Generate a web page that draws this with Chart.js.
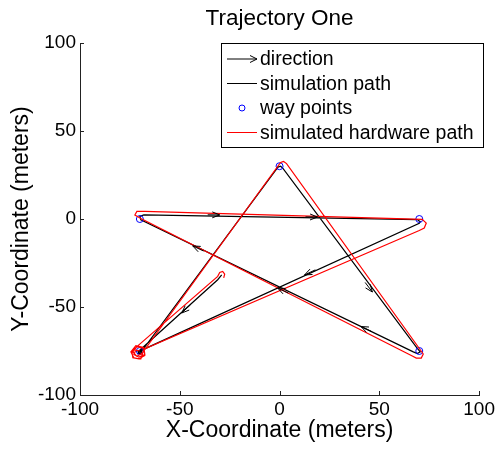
<!DOCTYPE html>
<html lang="en">
<head>
<meta charset="utf-8">
<title>Trajectory One</title>
<script src="https://cdn.jsdelivr.net/npm/chart.js@4.4.0/dist/chart.umd.min.js"></script>
<style>
  html, body { margin: 0; padding: 0; background: #fff; }
</style>
</head>
<body>
<canvas id="chart" width="498" height="450"></canvas>
<script>
// axis ticks
const tickValues = [-100, -50, 0, 50, 100];

// way points (star corners)
const waypointX = [0, 70, 70, -70, -70];
const waypointY = [30, 0, -75, 0, -75];

// simulation path (black)
const simX = [-29, -31, -69.5, -70.5, -71, -69.5, -69, -0.8, 0.5, 1.5, 69, 70.5, 69, 67,
              -69.5, -70, -68, 69, 70.5, 70, -69, -70.5, -71, -70, -69.5, -70.5];
const simY = [-31.8, -34.5, -74, -75.5, -76.5, -76.5, -75, 29.5, 30, 29, -73.5, -75.5, -76.5, -75.5,
              -0.5, 1.5, 2.3, -0.3, -1.5, -2.5, -74.5, -76, -75, -74.5, -75.5, -75.8];

// simulated hardware path (red)
const hwX = [-28, -27.5, -28.5, -30, -31, -71.5, -74, -73.5, -70.5, -67.5, -68, -71.5, -73.5, -71.5, -69,
             0.5, 2, 3.5, 72, 71, 68.5, 66.5, -69.5, -72.5, -71.5, -67.5, 71.5, 73.5, 72.5, 70,
             -68, -69.5, -73, -74.5, -72, -68, -67.5, -70.5, -73, -72, -70];
const hwY = [-33.5, -31.3, -29.8, -30.4, -32.6, -72.5, -75.5, -78.8, -79.5, -77.5, -73.5, -72.5, -75.5, -78, -76.5,
             32.1, 32.7, 31.5, -76.7, -79, -79, -77.8, 0.3, 2.3, 4.3, 4.3, -0.2, -2.3, -5.1, -6.5,
             -74, -79.5, -79, -75.5, -72, -73, -77, -78.5, -77, -74.5, -75];

// direction arrows: tip position and direction vector
const arrowX = [-49, 46.5, 40.8, -1, -43.5, -30, 19, 12.5];
const arrowY = [-53.4, -41.5, -61.1, -39.2, -15.3, 2.3, 1.1, -31.8];
const arrowU = [-41, 70, -140, -140, -140, 140, 140, -140];
const arrowV = [-44, -105, 75, 75, 75, -2, -2, -75];

const legendLabels = ['direction', 'simulation path', 'way points', 'simulated hardware path'];

const toPts = (xs, ys) => xs.map((v, i) => ({ x: v, y: ys[i] }));

Chart.defaults.font.family = '"Liberation Sans", Arial, Helvetica, sans-serif';
Chart.defaults.color = '#000';

function drawArrow(ctx, tx, ty, a, shaft, head) {
  ctx.beginPath();
  ctx.moveTo(tx - shaft * Math.cos(a), ty - shaft * Math.sin(a));
  ctx.lineTo(tx, ty);
  ctx.moveTo(tx - head * Math.cos(a - 0.38), ty - head * Math.sin(a - 0.38));
  ctx.lineTo(tx, ty);
  ctx.lineTo(tx - head * Math.cos(a + 0.38), ty - head * Math.sin(a + 0.38));
  ctx.stroke();
}

const overlay = {
  id: 'overlay',
  beforeDraw(chart) {
    const ctx = chart.ctx;
    ctx.save();
    ctx.fillStyle = '#fff';
    ctx.fillRect(0, 0, chart.width, chart.height);
    ctx.restore();
  },
  afterDatasetsDraw(chart) {
    const { ctx, scales: { x, y }, chartArea } = chart;
    ctx.save();
    ctx.strokeStyle = '#000';
    ctx.lineWidth = 1;
    for (let i = 0; i < arrowX.length; i++) {
      const tx = x.getPixelForValue(arrowX[i]), ty = y.getPixelForValue(arrowY[i]);
      const bx = x.getPixelForValue(arrowX[i] - arrowU[i]), by = y.getPixelForValue(arrowY[i] - arrowV[i]);
      drawArrow(ctx, tx, ty, Math.atan2(ty - by, tx - bx), 12, 8);
    }
    // inward ticks, left and bottom only
    ctx.strokeStyle = '#222';
    ctx.beginPath();
    tickValues.forEach(v => {
      const px = Math.round(x.getPixelForValue(v)) + 0.5;
      ctx.moveTo(px, chartArea.bottom);
      ctx.lineTo(px, chartArea.bottom - 4);
      const py = Math.round(y.getPixelForValue(v)) + 0.5;
      ctx.moveTo(chartArea.left, py);
      ctx.lineTo(chartArea.left + 4, py);
    });
    ctx.stroke();
    ctx.restore();
  },
  afterDraw(chart) {
    const ctx = chart.ctx;
    const bx = 221.5, by = 43.5, bw = 262, bh = 104;
    ctx.save();
    ctx.fillStyle = '#fff';
    ctx.fillRect(bx, by, bw, bh);
    ctx.strokeStyle = '#000';
    ctx.lineWidth = 1;
    ctx.strokeRect(bx, by, bw, bh);
    ctx.font = '19.5px "Liberation Sans", Arial, sans-serif';
    ctx.textBaseline = 'middle';
    ctx.fillStyle = '#000';
    const rows = [59, 83.5, 108, 132.5];
    legendLabels.forEach((t, i) => {
      const ly = rows[i];
      if (i === 0 || i === 1 || i === 3) {
        ctx.strokeStyle = i === 3 ? '#f00' : '#000';
        ctx.beginPath();
        ctx.moveTo(227, ly);
        ctx.lineTo(257, ly);
        ctx.stroke();
        if (i === 0) {
          ctx.beginPath();
          ctx.moveTo(250, ly - 3.5);
          ctx.lineTo(257, ly);
          ctx.lineTo(250, ly + 3.5);
          ctx.stroke();
        }
      } else {
        ctx.strokeStyle = '#00f';
        ctx.beginPath();
        ctx.arc(242, ly, 3, 0, Math.PI * 2);
        ctx.stroke();
      }
      ctx.fillText(t, 260, ly + 1);
    });
    ctx.restore();
  }
};

new Chart(document.getElementById('chart'), {
  type: 'scatter',
  data: {
    datasets: [
      {
        label: 'simulated hardware path',
        data: toPts(hwX, hwY),
        showLine: true,
        borderColor: '#ff0000',
        borderWidth: 1.2,
        pointRadius: 0,
        fill: false,
        order: 0
      },
      {
        label: 'way points',
        data: toPts(waypointX, waypointY),
        showLine: false,
        pointRadius: 3.5,
        pointStyle: 'circle',
        pointBorderColor: '#0000ff',
        pointBackgroundColor: 'rgba(0,0,0,0)',
        pointBorderWidth: 1,
        order: 1
      },
      {
        label: 'simulation path',
        data: toPts(simX, simY),
        showLine: true,
        borderColor: '#000000',
        borderWidth: 1.2,
        pointRadius: 0,
        fill: false,
        order: 2
      }
    ]
  },
  options: {
    responsive: false,
    animation: false,
    layout: { padding: { right: 18 } },
    plugins: {
      legend: { display: false },
      tooltip: { enabled: false },
      title: {
        display: true,
        text: 'Trajectory One',
        fullSize: false,
        color: '#000',
        font: { size: 22.5, weight: 'normal' },
        padding: { top: 5, bottom: 11 }
      }
    },
    scales: {
      x: {
        type: 'linear',
        min: -100,
        max: 100,
        afterFit(scale) { scale.height = 55; },
        grid: { display: false, drawTicks: false },
        border: { display: true, color: '#222', width: 1 },
        ticks: {
          stepSize: 50,
          autoSkip: false,
          maxRotation: 0,
          padding: 3,
          font: { size: 19 }
        },
        title: {
          display: true,
          text: 'X-Coordinate (meters)',
          font: { size: 23 },
          padding: { top: 0, bottom: 6 }
        }
      },
      y: {
        type: 'linear',
        min: -100,
        max: 100,
        afterFit(scale) { scale.width = 80; },
        grid: { display: false, drawTicks: false },
        border: { display: true, color: '#222', width: 1 },
        ticks: {
          stepSize: 50,
          autoSkip: false,
          padding: 4,
          font: { size: 19 }
        },
        title: {
          display: true,
          text: 'Y-Coordinate (meters)',
          font: { size: 23 },
          padding: { top: 8, bottom: 0 }
        }
      }
    }
  },
  plugins: [overlay]
});
</script>
</body>
</html>
